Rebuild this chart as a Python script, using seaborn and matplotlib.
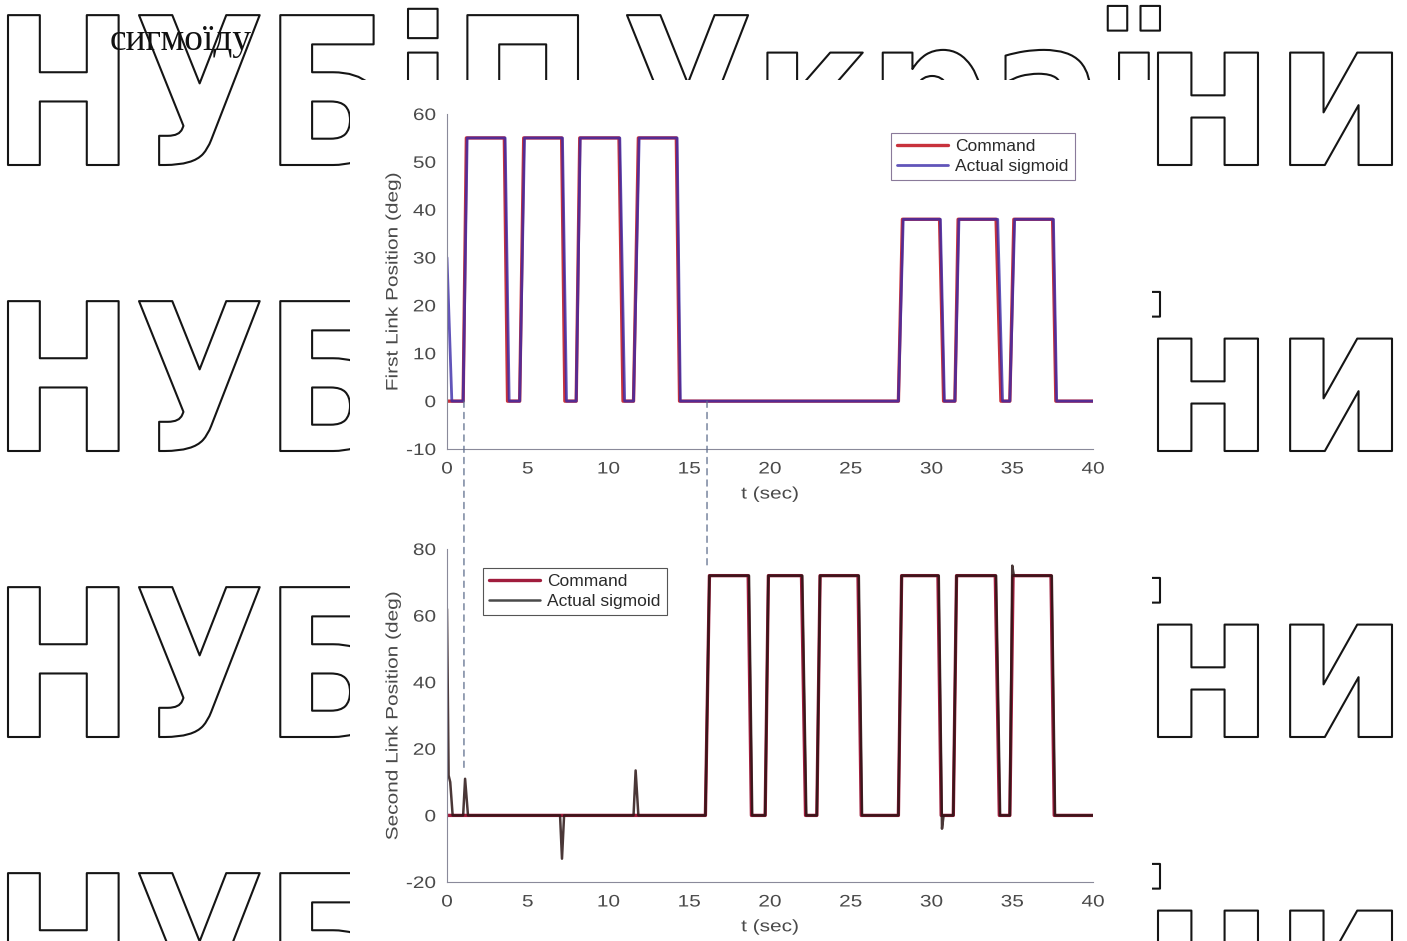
import matplotlib
matplotlib.use("Agg")
import matplotlib.pyplot as plt
import matplotlib.colors as mcolors
import seaborn as sns
from matplotlib.patches import Rectangle, ConnectionPatch
from matplotlib.patheffects import AbstractPathEffect
from matplotlib.transforms import Affine2D
from matplotlib.textpath import TextPath
from matplotlib.font_manager import FontProperties

# ---------------- data ----------------
cmd1_t = [0, 1.0, 1.2, 3.55, 3.75, 4.5, 4.75, 7.1, 7.3, 8.0, 8.22, 10.65, 10.9, 11.55, 11.85,
          14.2, 14.4, 27.95, 28.2, 30.5, 30.75, 31.45, 31.65, 34.0, 34.3, 34.85, 35.1, 37.5, 37.7, 40]
cmd1_y = [0, 0, 55, 55, 0, 0, 55, 55, 0, 0, 55, 55, 0, 0, 55,
          55, 0, 0, 38, 38, 0, 0, 38, 38, 0, 0, 38, 38, 0, 0]
act1_t = [0, 0.3, 1.0, 1.25, 3.6, 3.85, 4.5, 4.8, 7.15, 7.4, 8.0, 8.25, 10.7, 11.0, 11.55, 11.9,
          14.25, 14.45, 27.95, 28.25, 30.55, 30.8, 31.45, 31.7, 34.1, 34.4, 34.85, 35.15, 37.55, 37.75, 40]
act1_y = [30, 0, 0, 55, 55, 0, 0, 55, 55, 0, 0, 55, 55, 0, 0, 55,
          55, 0, 0, 38, 38, 0, 0, 38, 38, 0, 0, 38, 38, 0, 0]

cmd2_t = [0, 16.0, 16.25, 18.65, 18.85, 19.7, 19.9, 21.95, 22.2, 22.9, 23.1, 25.45, 25.65, 27.95, 28.15,
          30.4, 30.6, 31.35, 31.55, 33.95, 34.2, 34.85, 35.05, 37.4, 37.6, 40]
cmd2_y = [0, 0, 72, 72, 0, 0, 72, 72, 0, 0, 72, 72, 0, 0, 72,
          72, 0, 0, 72, 72, 0, 0, 72, 72, 0, 0]
act2_t = [0, 0.1, 0.2, 0.35, 1.0, 1.12, 1.3, 7.0, 7.12, 7.25, 11.55, 11.68, 11.85, 16.0, 16.25,
          18.7, 18.9, 19.7, 19.9, 22.0, 22.25, 22.9, 23.1, 25.5, 25.7, 27.95, 28.15, 30.45, 30.65, 30.75,
          31.35, 31.55, 34.0, 34.25, 34.85, 35.0, 35.1, 37.45, 37.65, 40]
act2_y = [62, 12, 10, 0, 0, 11, 0, 0, -13, 0, 0, 13.5, 0, 0, 72,
          72, 0, 0, 72, 72, 0, 0, 72, 72, 0, 0, 72, 72, -4, 0,
          0, 72, 72, 0, 0, 75, 72, 72, 0, 0]

link_t = [1.05, 16.1]
link_top_y = [0, 0]
link_bot_y = [14, 75]

top_yticks = [-10, 0, 10, 20, 30, 40, 50, 60]
bot_yticks = [-20, 0, 20, 40, 60, 80]
xticks = [0, 5, 10, 15, 20, 25, 30, 35, 40]

watermark_parts = ["НУБіП", "Украї", "ни"]   # watermark "НУБіП України"
caption = "сигмоїду"

# ---------------- style ----------------
sns.set_theme(style="white")
plt.rcParams["font.family"] = ["Liberation Sans", "DejaVu Sans"]
plt.rcParams["axes.unicode_minus"] = False

W, H = 1407, 941
fig = plt.figure(figsize=(W / 100, H / 100), dpi=100)
fig.patch.set_facecolor("white")


class Squeeze(AbstractPathEffect):
    """Outline text (white fill, dark stroke) scaled horizontally about x0."""
    def __init__(self, sx, x0, lw=1.5, ec="#151515", fc="white"):
        super().__init__()
        self.sx, self.x0, self.lw, self.ec = sx, x0, lw, ec
        self.fc = mcolors.to_rgb(fc)

    def draw_path(self, renderer, gc, tpath, affine, rgbFace=None):
        aff = affine + Affine2D().translate(-self.x0, 0).scale(self.sx, 1).translate(self.x0, 0)
        gc0 = renderer.new_gc()
        gc0.copy_properties(gc)
        gc0.set_linewidth(self.lw)
        gc0.set_foreground(self.ec)
        gc0.set_joinstyle("round")
        gc0.set_capstyle("round")
        renderer.draw_path(gc0, tpath, aff, self.fc)
        gc0.restore()


class Stretch(AbstractPathEffect):
    """Stretch a text's glyphs (the chart image in the page is stretched sideways)."""
    def __init__(self, sx=1.0, sy=1.0, anchor="center"):
        super().__init__()
        self.sx, self.sy, self.anchor = sx, sy, anchor

    def draw_path(self, renderer, gc, tpath, affine, rgbFace=None):
        ext = tpath.get_extents(affine)
        if self.anchor == "right":
            ax0 = ext.x1
        elif self.anchor == "left":
            ax0 = ext.x0
        else:
            ax0 = (ext.x0 + ext.x1) / 2
        cy = (ext.y0 + ext.y1) / 2
        aff = affine + Affine2D().translate(-ax0, -cy).scale(self.sx, self.sy).translate(ax0, cy)
        renderer.draw_path(gc, tpath, aff, rgbFace)


# ---------------- watermark ----------------
fs_wm = 148
k = 100 / 72
fp_wm = FontProperties(family="DejaVu Sans", weight="bold")
ink_targets = [(8, 578), (627, 1160), (1158, 1392)]
for base in [165, 451, 737, 1023]:
    for word, (L, R) in zip(watermark_parts, ink_targets):
        ext = TextPath((0, 0), word, size=fs_wm, prop=fp_wm).get_extents()
        sx = (R - L) / ((ext.x1 - ext.x0) * k)
        X = L - sx * ext.x0 * k
        t = fig.text(X / W, (H - base) / H, word, fontsize=fs_wm, family="DejaVu Sans",
                     weight="bold", ha="left", va="baseline", color="white", zorder=-5)
        t.set_path_effects([Squeeze(sx, X)])

# white area where the chart image sits on the page
fig.add_artist(Rectangle((350 / W, 0), 802 / W, (H - 80) / H, transform=fig.transFigure,
                         facecolor="white", edgecolor="none", zorder=-1))

fig.text(110 / W, (H - 50) / H, caption, fontsize=27, family=["Liberation Serif", "DejaVu Serif"],
         ha="left", va="baseline", color="#111111", zorder=10)

# ---------------- axes ----------------
ax1 = fig.add_axes([447 / W, (H - 449) / H, 646 / W, 335 / H])
ax2 = fig.add_axes([447 / W, (H - 882) / H, 646 / W, 333 / H])

sns.lineplot(x=cmd1_t, y=cmd1_y, ax=ax1, color="#c8323c", lw=2.4, label="Command",
             estimator=None, sort=False)
sns.lineplot(x=act1_t, y=act1_y, ax=ax1, color="#3a2aa8", lw=2.0, alpha=0.8, label="Actual sigmoid",
             estimator=None, sort=False)
sns.lineplot(x=cmd2_t, y=cmd2_y, ax=ax2, color="#a01c3c", lw=2.4, label="Command",
             estimator=None, sort=False)
sns.lineplot(x=act2_t, y=act2_y, ax=ax2, color="#2a1414", lw=1.8, alpha=0.85, label="Actual sigmoid",
             estimator=None, sort=False)

SX = 1.25
for ax, yt, ylab in [(ax1, top_yticks, "First Link Position (deg)"),
                     (ax2, bot_yticks, "Second Link Position (deg)")]:
    ax.set_facecolor("none")
    ax.set_xlim(0, 40)
    ax.set_ylim(yt[0], yt[-1])
    ax.set_xticks(xticks)
    ax.set_yticks(yt)
    ax.tick_params(direction="in", length=4, width=0.7, colors="#8a8a8a",
                   labelcolor="#4a4a4a", labelsize=12)
    ax.tick_params(axis="x", pad=9)
    ax.tick_params(axis="y", pad=8)
    for s in ["top", "right"]:
        ax.spines[s].set_visible(False)
    for s in ["left", "bottom"]:
        ax.spines[s].set_color("#8a8a9a")
        ax.spines[s].set_linewidth(0.8)
    ax.set_ylabel(ylab, fontsize=12, color="#4a4a4a")
    ax.set_xlabel("t (sec)", fontsize=12, color="#4a4a4a")
    ax.yaxis.set_label_coords(-0.072, 0.5)
    ax.xaxis.set_label_coords(0.5, -0.112)
    ax.grid(False)
    for lab in ax.get_xticklabels():
        lab.set_path_effects([Stretch(SX, 1, "center")])
    for lab in ax.get_yticklabels():
        lab.set_path_effects([Stretch(SX, 1, "right")])
    ax.xaxis.label.set_path_effects([Stretch(SX, 1, "center")])
    ax.yaxis.label.set_path_effects([Stretch(1, SX, "center")])

leg_kw = dict(fontsize=12.5, frameon=True, fancybox=False, framealpha=1, handlelength=2.9,
              borderpad=0.35, labelspacing=0.25, handletextpad=0.45, borderaxespad=0)
leg1 = ax1.legend(loc="upper right", bbox_to_anchor=(0.972, 0.943), edgecolor="#8a7a9a", **leg_kw)
leg2 = ax2.legend(loc="upper left", bbox_to_anchor=(0.056, 0.943), edgecolor="#555555", **leg_kw)
for leg in (leg1, leg2):
    leg.get_frame().set_linewidth(0.8)
    for txt in leg.get_texts():
        txt.set_color("#2a2a2a")
leg2.get_lines()[1].set_color("#4a4a4a")
leg2.get_lines()[1].set_alpha(1)

for t, y1, y2 in zip(link_t, link_top_y, link_bot_y):
    cp = ConnectionPatch(xyA=(t, y1), coordsA=ax1.transData, xyB=(t, y2), coordsB=ax2.transData,
                         linestyle=(0, (5, 4)), color="#5a6a8a", lw=0.9, zorder=5)
    fig.add_artist(cp)

fig.savefig("out.png", dpi=100, facecolor="white")
